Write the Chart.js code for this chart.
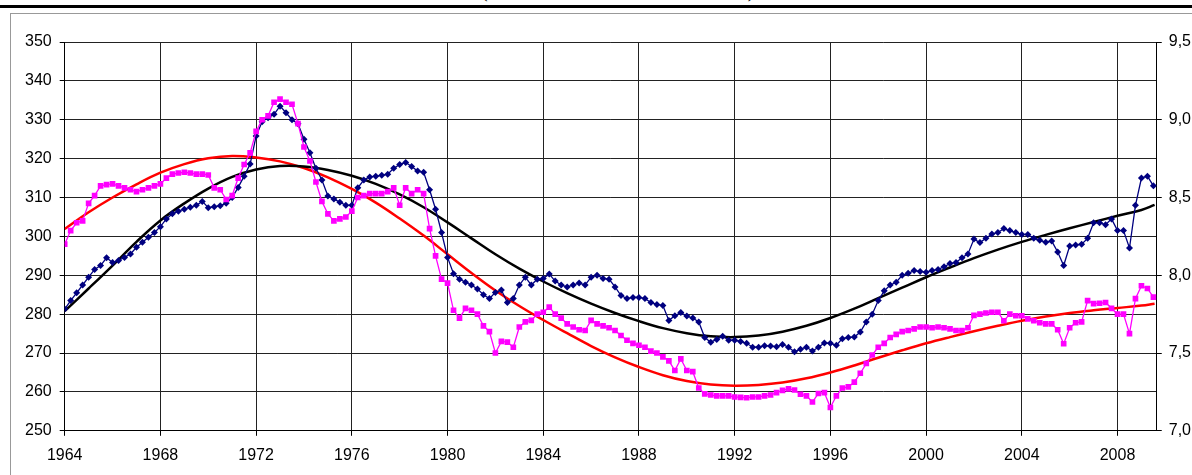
<!DOCTYPE html>
<html>
<head>
<meta charset="utf-8">
<script src="https://cdn.jsdelivr.net/npm/chart.js@4"></script>
<style>
    body { margin: 0; background: #fff; overflow: hidden; }
    #cadre { position: absolute; left: 0; top: 0; width: 1192px; height: 475px; overflow: hidden; }
    #trait { position: absolute; left: 0; top: 5px; width: 1192px; height: 3px; background: #000; }
    #titre { position: absolute; left: 481px; top: -21px; font: 20px "Liberation Serif", serif; white-space: pre; color: #000; }
    #bord { position: absolute; left: 10px; top: 13px; width: 1300px; height: 600px; border: 1px solid #999; }
    #zone { position: absolute; left: 0; top: 0; width: 1192px; height: 475px; }
</style>
</head>
<body>
<div id="cadre">
    <div id="titre">(                                                    )</div>
    <div id="trait"></div>
    <div id="bord"></div>
    <div id="zone"><canvas id="grafico" width="1192" height="475"></canvas></div>
</div>
<script>
// valeurs trimestrielles, de 1964 T1 a 2009 T3
const premiereAnnee = 1964;
const pointsParAn = 4;

const serieBleue = [
    281.3, 283.5, 285.5, 287.5,
    289.5, 291.5, 292.5, 294.5,
    293.3, 293.8, 294.6, 295.5,
    297.2, 298.5, 299.8, 301,
    302.5, 304.5, 305.8, 306.5,
    307, 307.5, 308, 309,
    307.4, 307.6, 307.9, 308.5,
    310, 312.6, 315.5, 318.6,
    325.8, 329.5, 330.5, 331.4,
    333.5, 331.8, 330, 329,
    325, 321.5, 317.5, 314.5,
    310.4, 309.6, 308.8, 308,
    308, 312.5, 314.5, 315.3,
    315.5, 315.7, 316, 317.5,
    318.5, 319, 318, 316.8,
    316.5, 312, 307, 301,
    294.6, 290.4, 289, 288.2,
    287.5, 286.5, 285, 284,
    285.6, 286.2, 283, 284,
    287.5, 289.5, 287.5, 289,
    289.2, 290.3, 288.5, 287.5,
    287, 287.5, 288, 287.5,
    289.5, 290, 289.2, 289,
    287, 284.8, 284, 284.3,
    284.3, 284, 283, 282.5,
    282.2, 278.4, 279.6, 280.4,
    279.5, 279, 278, 274,
    272.8, 273.5, 274.3, 273.3,
    273.3, 273, 272.5, 271.5,
    271.5, 271.9, 271.8, 271.6,
    272.2, 271.5, 270.3, 271,
    271.5, 270.5, 271.5, 272.6,
    272.5, 272, 273.7, 274,
    274.1, 275.4, 278, 280,
    283.5, 286, 287.5, 288.2,
    290, 290.5, 291.2, 291,
    290.8, 291.2, 291.5, 292.2,
    293, 293.3, 294.5, 295.5,
    299.3, 298.4, 299.5, 300.6,
    301, 302, 301.5, 301,
    300.5, 300.5, 299.5, 299,
    298.5, 298.8, 296, 292.5,
    297.5, 297.8, 298, 299.5,
    303.5, 303.5, 303, 304.5,
    301.5, 301.5, 297, 308,
    315, 315.5, 313
];

const serieRose = [
    298, 301.5, 303.5, 304,
    308.5, 310.5, 313, 313.3,
    313.5, 313, 312.5, 312,
    311.5, 312, 312.5, 313,
    313.5, 315, 316, 316.3,
    316.5, 316.3, 316, 316,
    315.8, 312.5, 312, 309.5,
    310.5, 315, 318.5, 321.5,
    327, 330, 331, 334.5,
    335.3, 334.5, 334, 329,
    323, 319.4, 314, 309,
    305.8, 304, 304.5, 305,
    306.5, 310, 310.5, 311,
    311, 311, 311.5, 312.5,
    308, 312.5, 311, 312,
    311, 302, 295, 289,
    288, 281, 279, 281.5,
    281, 280, 277, 275.5,
    270, 273, 272.8, 271.5,
    276.7, 278, 278.4, 280,
    280.5, 281.8, 280, 279,
    277.5, 276.7, 276, 275.8,
    278.4, 277.5, 277, 276.5,
    275.8, 274.5, 273.3, 272.5,
    272, 271.5, 270.5, 270,
    269, 268, 265.5, 268.5,
    265.5, 265.2, 261, 259.5,
    259.2, 259, 259, 259,
    258.7, 258.6, 258.5, 258.7,
    258.7, 259, 259.2, 259.8,
    260.4, 260.8, 260.5, 259.4,
    259, 257.4, 259.6, 259.8,
    256, 259, 261, 261.3,
    262.5, 264.8, 267.3, 269.5,
    271.5, 272.5, 274, 274.8,
    275.5, 275.8, 276.2, 276.7,
    276.7, 276.5, 276.7, 276.5,
    276.2, 275.8, 275.8, 276.5,
    279.7, 280, 280.3, 280.5,
    280.5, 278.3, 280, 279.6,
    279.6, 278.8, 278.3, 277.8,
    277.5, 277.5, 276, 272.4,
    276.5, 277.8, 278, 283.5,
    282.7, 282.8, 283, 281.5,
    280, 280, 275, 284,
    287.3, 286.6, 284.4
];

// courbes de tendance, une valeur par an
const anneesTendance = [1964, 1965, 1966, 1967, 1968, 1969, 1970, 1971, 1972, 1973, 1974, 1975,
    1976, 1977, 1978, 1979, 1980, 1981, 1982, 1983, 1984, 1985, 1986, 1987, 1988, 1989, 1990,
    1991, 1992, 1993, 1994, 1995, 1996, 1997, 1998, 1999, 2000, 2001, 2002, 2003, 2004, 2005,
    2006, 2007, 2008, 2009, 2009.55];
const tendanceNoire = [280.8, 286.6, 292.5, 298.6, 304.1, 308.5, 312.3, 315.3, 317.2, 318.1, 318, 317.1,
    315.6, 313.5, 310.8, 307.5, 303.6, 299.5, 295.4, 291.7, 288.4, 285.4, 282.7, 280.3, 278.2, 276.4, 275.1,
    274.3, 274.1, 274.5, 275.5, 277, 279, 281.4, 284.1, 286.8, 289.5, 292, 294.4, 296.6, 298.6, 300.4,
    302.1, 303.7, 305.3, 306.8, 308.1];
const tendanceRouge = [301.9, 306.2, 310, 313.4, 316.4, 318.6, 320.1, 320.7, 320.3, 319.3, 317.6, 315.2,
    312.2, 308.7, 304.6, 300.2, 295.4, 290.6, 286.1, 282.1, 278.5, 275.1, 271.8, 268.9, 266.4, 264.3, 262.8,
    261.9, 261.6, 261.8, 262.4, 263.5, 265, 266.8, 268.8, 270.7, 272.5, 274.1, 275.6, 277, 278.3, 279.4,
    280.3, 281, 281.6, 282.2, 282.7];

const etiquettesAnnees = [1964, 1968, 1972, 1976, 1980, 1984, 1988, 1992, 1996, 2000, 2004, 2008];
const finAxe = 2009.64;

function enPoints(valeurs) {
    return valeurs.map((v, i) => ({ x: premiereAnnee + i / pointsParAn, y: v }));
}

function tendance(valeurs) {
    return valeurs.map((v, i) => ({ x: anneesTendance[i], y: v }));
}

const police = { family: 'Liberation Sans', size: 16 };

const ctx = document.getElementById('grafico').getContext('2d');
new Chart(ctx, {
    type: 'line',
    data: {
        datasets: [
            {
                data: enPoints(serieRose),
                borderColor: '#FF00FF',
                backgroundColor: '#FF00FF',
                borderWidth: 1.3,
                pointStyle: 'rect',
                pointRadius: 4,
                pointBorderWidth: 0,
                tension: 0
            },
            {
                data: enPoints(serieBleue),
                borderColor: '#000080',
                backgroundColor: '#000080',
                borderWidth: 1.3,
                pointStyle: 'rectRot',
                pointRadius: 3.5,
                pointBorderWidth: 0,
                tension: 0
            },
            {
                data: tendance(tendanceNoire),
                borderColor: '#000',
                borderWidth: 2.5,
                pointRadius: 0,
                tension: 0.4
            },
            {
                data: tendance(tendanceRouge),
                borderColor: '#FF0000',
                borderWidth: 2.5,
                pointRadius: 0,
                tension: 0.4
            }
        ]
    },
    options: {
        responsive: false,
        animation: false,
        layout: { padding: { left: 17, right: -6, top: 42, bottom: 0 } },
        plugins: { legend: { display: false }, tooltip: { enabled: false } },
        scales: {
            x: {
                type: 'linear',
                min: premiereAnnee,
                max: finAxe,
                afterBuildTicks: axe => { axe.ticks = etiquettesAnnees.map(v => ({ value: v })); },
                ticks: { font: police, color: '#000', padding: 10, maxRotation: 0, callback: v => String(v) },
                grid: { color: '#222', lineWidth: 1, tickLength: 5, tickColor: '#000' },
                border: { color: '#000', width: 1 }
            },
            y: {
                min: 250,
                max: 350,
                ticks: { stepSize: 10, font: police, color: '#000', padding: 8 },
                grid: { color: '#222', lineWidth: 1, tickLength: 5, tickColor: '#000' },
                border: { color: '#000', width: 1 }
            },
            y2: {
                position: 'right',
                min: 7,
                max: 9.5,
                ticks: {
                    stepSize: 0.5,
                    font: police,
                    color: '#000',
                    padding: 7,
                    callback: v => v.toFixed(1).replace('.', ',')
                },
                grid: { drawOnChartArea: false, tickLength: 5, tickColor: '#000' },
                border: { color: '#000', width: 1 }
            }
        }
    }
});
</script>
</body>
</html>
